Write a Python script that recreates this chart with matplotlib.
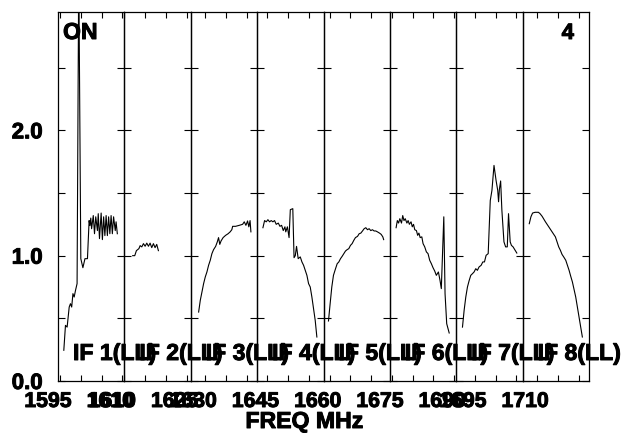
import matplotlib
matplotlib.use("Agg")
import matplotlib.pyplot as plt
import matplotlib.transforms as mtransforms
import matplotlib.patheffects as pe

plt.rcParams['font.family'] = ['Liberation Sans', 'DejaVu Sans']
plt.rcParams['font.weight'] = 'bold'

# ---------------- data ----------------
if_names = ["IF 1(LL)", "IF 2(LL)", "IF 3(LL)", "IF 4(LL)",
            "IF 5(LL)", "IF 6(LL)", "IF 7(LL)", "IF 8(LL)"]
if_start = [1594.5, 1610.0, 1626.5, 1642.5, 1658.5, 1674.5, 1690.5, 1706.5]
if_width = 16.0

labeled_ticks = [[1595, 1610], [1610, 1625], [1630], [1645],
                 [1660], [1675, 1690], [1695], [1710]]

f1 = [1595.9, 1596.3, 1596.7, 1597.2, 1597.5, 1597.8, 1598.1, 1598.4, 1598.7, 1599.1,
      1599.5, 1600.0, 1600.5, 1601.0, 1601.6, 1602.0, 1602.2, 1602.4, 1602.6, 1603.0,
      1603.3, 1603.6, 1604.0, 1604.2, 1604.5, 1604.9, 1605.2, 1605.5, 1605.8, 1606.1,
      1606.4, 1606.7, 1607.0, 1607.3, 1607.6, 1607.9, 1608.3, 1608.5, 1608.8]
v1 = [0.245, 0.444, 0.43, 0.59, 0.617, 0.59, 0.697, 0.67, 0.72, 0.777,
      3.3, 0.976, 0.904, 0.976, 0.976, 1.28, 1.24, 1.30, 1.215, 1.32,
      1.175, 1.31, 1.20, 1.335, 1.136, 1.34, 1.128, 1.31, 1.16, 1.32,
      1.16, 1.31, 1.175, 1.32, 1.175, 1.31, 1.20, 1.27, 1.175]

f2 = [1612.0, 1612.5, 1612.9, 1613.5, 1613.8, 1614.2, 1614.6, 1615.0, 1615.4, 1615.8,
      1616.2, 1616.6, 1617.0, 1617.4, 1617.8, 1618.2]
v2 = [1.0, 1.0, 1.04, 1.056, 1.08, 1.07, 1.096, 1.075, 1.10, 1.075,
      1.10, 1.064, 1.096, 1.064, 1.09, 1.04]

f3 = [1628.4, 1628.8, 1629.2, 1629.6, 1630.0, 1630.4, 1630.8, 1631.2, 1631.6, 1632.0,
      1632.5, 1632.9, 1633.2, 1633.5, 1633.8, 1634.3, 1634.9, 1635.5, 1636.0, 1636.4,
      1636.6, 1637.3, 1638.2, 1639.0, 1639.4, 1639.8, 1640.2, 1640.5, 1640.8, 1641.0]
v3 = [0.55, 0.644, 0.71, 0.777, 0.83, 0.87, 0.923, 0.963, 1.016, 1.048,
      1.074, 1.11, 1.144, 1.09, 1.117, 1.144, 1.162, 1.175, 1.19, 1.207,
      1.234, 1.234, 1.242, 1.25, 1.27, 1.242, 1.277, 1.23, 1.28, 1.19]

f4 = [1643.9, 1644.3, 1644.7, 1645.1, 1645.5, 1645.9, 1646.3, 1646.7, 1647.1, 1647.6,
      1648.0, 1648.4, 1648.8, 1649.2, 1649.4, 1649.8, 1650.2, 1650.5, 1651.1, 1651.4,
      1651.7, 1652.0, 1652.4, 1652.9, 1653.3, 1653.7, 1654.1, 1654.5, 1654.9, 1655.3,
      1655.7, 1656.1, 1656.5, 1656.9]
v4 = [1.223, 1.28, 1.27, 1.287, 1.27, 1.28, 1.27, 1.28, 1.25, 1.26,
      1.234, 1.242, 1.20, 1.23, 1.19, 1.23, 1.144, 1.367, 1.375, 0.984,
      1.0, 1.074, 0.976, 0.99, 0.95, 0.923, 0.883, 0.843, 0.777, 0.75,
      0.67, 0.577, 0.484, 0.351]

f5 = [1659.7, 1660.1, 1660.5, 1660.9, 1661.4, 1661.8, 1662.2, 1662.6, 1663.0, 1663.4,
      1663.8, 1664.2, 1664.6, 1665.0, 1665.4, 1665.8, 1666.2, 1666.7, 1667.1, 1667.5,
      1667.9, 1668.3, 1668.7, 1669.1, 1669.5, 1669.9, 1670.3, 1670.7, 1671.1, 1671.5,
      1672.0, 1672.4, 1672.8, 1673.0]
v5 = [0.479, 0.617, 0.75, 0.843, 0.896, 0.936, 0.95, 0.976, 0.995, 1.016,
      1.037, 1.048, 1.056, 1.082, 1.096, 1.122, 1.144, 1.154, 1.175, 1.18,
      1.197, 1.215, 1.223, 1.207, 1.215, 1.20, 1.207, 1.197, 1.197, 1.19,
      1.18, 1.17, 1.15, 1.128]

f6 = [1676.0, 1676.3, 1676.6, 1676.9, 1677.3, 1677.6, 1677.9, 1678.2, 1678.6, 1678.9,
      1679.2, 1679.6, 1679.9, 1680.2, 1680.5, 1680.9, 1681.2, 1681.5, 1681.8, 1682.2,
      1682.5, 1682.9, 1683.3, 1683.7, 1684.1, 1684.5, 1684.9, 1685.3, 1685.7, 1686.2,
      1686.6, 1686.9, 1687.5, 1687.8, 1688.2, 1688.8]
v6 = [1.223, 1.28, 1.26, 1.295, 1.26, 1.32, 1.28, 1.295, 1.26, 1.28,
      1.25, 1.27, 1.23, 1.25, 1.207, 1.20, 1.162, 1.18, 1.144, 1.15,
      1.096, 1.07, 1.03, 1.016, 0.963, 0.936, 0.904, 0.878, 0.843, 0.87,
      0.80, 0.737, 1.31, 0.697, 0.457, 0.383]

f7 = [1692.0, 1692.4, 1692.8, 1693.2, 1693.6, 1694.0, 1694.4, 1694.8, 1695.2, 1695.6,
      1696.0, 1696.5, 1696.9, 1697.3, 1697.7, 1698.2, 1698.7, 1699.1, 1699.6, 1700.1,
      1700.5, 1700.7, 1700.9, 1701.2, 1701.5, 1702.0, 1702.4, 1702.8, 1703.1, 1703.5,
      1703.8, 1704.2, 1704.6, 1705.1]
v7 = [0.43, 0.564, 0.67, 0.75, 0.80, 0.843, 0.856, 0.87, 0.896, 0.883,
      0.91, 0.923, 0.95, 0.95, 1.003, 1.016, 1.44, 1.52, 1.72, 1.60,
      1.52, 1.43, 1.53, 1.596, 1.362, 1.11, 1.07, 1.07, 1.335, 1.11,
      1.082, 1.07, 1.048, 1.021]

f8 = [1708.1, 1708.5, 1708.9, 1709.5, 1710.3, 1710.7, 1711.2, 1712.0, 1712.8, 1713.6,
      1714.4, 1714.8, 1715.2, 1715.6, 1716.0, 1716.4, 1716.9, 1717.3, 1717.7, 1718.1,
      1718.5, 1718.9, 1719.3, 1719.7, 1720.1, 1720.5, 1720.9]
v8 = [1.255, 1.31, 1.34, 1.346, 1.346, 1.335, 1.314, 1.27, 1.23, 1.19,
      1.15, 1.11, 1.07, 1.043, 1.01, 0.99, 0.963, 0.923, 0.883, 0.835,
      0.79, 0.73, 0.67, 0.59, 0.51, 0.43, 0.351]

freqs = [f1, f2, f3, f4, f5, f6, f7, f8]
vals = [v1, v2, v3, v4, v5, v6, v7, v8]

y_ticks = [0.0, 0.5, 1.0, 1.5, 2.0, 2.5]
y_labels = ["0.0", "", "1.0", "", "2.0", ""]
y_max = 2.944

# ---------------- figure ----------------
W, H = 627, 434
fig = plt.figure(figsize=(W / 100, H / 100), dpi=100)
gs = fig.add_gridspec(1, 8, left=58 / W, right=589 / W,
                      bottom=1 - 381 / H, top=1 - 12 / H, wspace=0)
PH = 369.0     # panel height in px
PW = 66.4      # panel width in px
heavy = [pe.withStroke(linewidth=0.7, foreground='black')]
tick_off = mtransforms.ScaledTranslation(-0.12, -0.26, fig.dpi_scale_trans)

axes = []
for i in range(8):
    ax = fig.add_subplot(gs[0, i])
    ax.patch.set_visible(False)
    axes.append(ax)
    ax.plot(freqs[i], vals[i], color='black', lw=0.8)
    x0 = if_start[i]
    ax.set_xlim(x0, x0 + if_width)
    ax.set_ylim(0, y_max)
    # 5 MHz ticks inside the panel
    t = 5 * int(x0 // 5)
    xt = []
    while t <= x0 + if_width:
        if t >= x0 - 1e-6:
            xt.append(t)
        t += 5
    ax.set_xticks(xt)
    ax.set_xticklabels([])
    for v in labeled_ticks[i]:
        ax.text(v, 0, str(v), transform=ax.get_xaxis_transform() + tick_off,
                fontsize=15.3, fontweight='bold', ha='center', va='baseline',
                path_effects=heavy)
    ax.set_yticks(y_ticks)
    if i == 0:
        ax.set_yticklabels(y_labels, fontsize=16, fontweight='bold')
        for lab in ax.get_yticklabels():
            lab.set_path_effects(heavy)
    else:
        ax.set_yticklabels([])
    ax.tick_params(axis='x', which='both', direction='in', top=True, bottom=True,
                   length=4, width=0.8, colors='black')
    ax.tick_params(axis='y', which='both', direction='in', left=True, right=True,
                   length=5, width=0.8, pad=11, colors='black')
    for s in ax.spines.values():
        s.set_linewidth(0.9)
    ax.text(15 / PW, 21 / PH, if_names[i], transform=ax.transAxes,
            fontsize=16.6, fontweight='bold', ha='left', va='baseline',
            path_effects=heavy)

axes[0].text(5 / PW, 1 - 27 / PH, "ON", transform=axes[0].transAxes,
             fontsize=16.6, fontweight='bold', ha='left', va='baseline',
             path_effects=heavy)
axes[-1].text(1 - 15 / PW, 1 - 27 / PH, "4", transform=axes[-1].transAxes,
              fontsize=16, fontweight='bold', ha='right', va='baseline',
              path_effects=heavy)

fig.text(304 / W, 1 - 428 / H, "FREQ MHz", fontsize=16.6, fontweight='bold',
         ha='center', va='baseline', path_effects=heavy)

fig.savefig("out.png", dpi=100)
